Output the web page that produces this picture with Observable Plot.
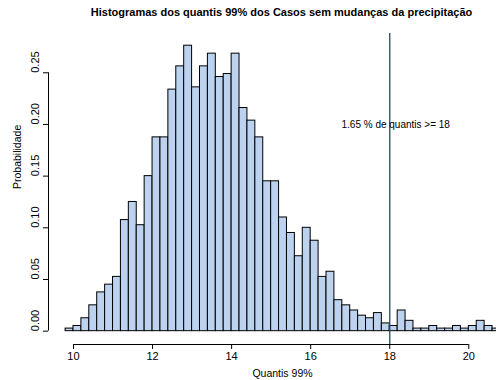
<!DOCTYPE html>
<html>
<head>
<meta charset="utf-8">
<script src="https://cdn.jsdelivr.net/npm/d3@7"></script>
<script src="https://cdn.jsdelivr.net/npm/@observablehq/plot@0.6"></script>
<style>
  html, body { margin: 0; padding: 0; background: #fff; overflow: hidden; }
  #wrap { width: 496px; height: 380px; position: relative; font-family: "Liberation Sans", Arial, sans-serif; }
  #title { position: relative; left: 0; width: 563px; height: 20px; padding-top: 6px; box-sizing: content-box; text-align: center; font-weight: bold; font-size: 11px; line-height: 13px; color: #000; white-space: nowrap; }
  svg { display: block; }
</style>
</head>
<body>
<div id="wrap">
  <div id="title">Histogramas dos quantis 99% dos Casos sem mudanças da precipitação</div>
  <div id="chart"></div>
</div>
<script>
// Bin lower edges (width 0.2)
const binLeft = [9.8, 10.0, 10.2, 10.4, 10.6, 10.8, 11.0, 11.2, 11.4, 11.6, 11.8,
  12.0, 12.2, 12.4, 12.6, 12.8, 13.0, 13.2, 13.4, 13.6, 13.8,
  14.0, 14.2, 14.4, 14.6, 14.8, 15.0, 15.2, 15.4, 15.6, 15.8,
  16.0, 16.2, 16.4, 16.6, 16.8, 17.0, 17.2, 17.4, 17.6, 17.8,
  18.0, 18.2, 18.4, 18.6, 18.8, 19.0, 19.2, 19.4, 19.6, 19.8,
  20.0, 20.2, 20.4, 20.6];
const binWidth = 0.2;
// Density ("Probabilidade") per bin
const density = [0.0025, 0.005, 0.0125, 0.025, 0.0375, 0.045, 0.0525, 0.1075, 0.125, 0.1025, 0.15,
  0.1875, 0.1875, 0.2337, 0.2562, 0.2762, 0.2359, 0.2562, 0.2685, 0.2459, 0.2488,
  0.2685, 0.2159, 0.2037, 0.1875, 0.145, 0.145, 0.11, 0.095, 0.0725, 0.1,
  0.0875, 0.0525, 0.0575, 0.03, 0.025, 0.02, 0.015, 0.0125, 0.0175, 0.0075,
  0.005, 0.02, 0.01, 0.0025, 0.0025, 0.005, 0.0025, 0.0025, 0.005, 0.0025,
  0.005, 0.01, 0.005, 0.0025];
const xTicks = [10, 12, 14, 16, 18, 20];
const yTicks = [0, 0.05, 0.10, 0.15, 0.20, 0.25];
const yTickLabels = ["0.00", "0.05", "0.10", "0.15", "0.20", "0.25"];
const threshold = 18;
const annotation = "1.65 % de quantis >= 18";
const xLabel = "Quantis 99%";
const yLabel = "Probabilidade";

const bins = binLeft.map((x0, i) => ({x0, x1: x0 + binWidth, d: density[i]}));
const xDomain = [9.368, 20.70];
const yDomain = [-0.0129, 0.288];
const yTickData = yTicks.map((v, i) => ({v, label: yTickLabels[i]}));

const chart = Plot.plot({
  width: 496,
  height: 354,
  marginTop: 7,
  marginBottom: 36,
  marginLeft: 48,
  marginRight: 0,
  style: {fontFamily: "'Liberation Sans', Arial, sans-serif", fontSize: "11px", background: "#fff", color: "#000"},
  x: {domain: xDomain},
  y: {domain: yDomain},
  marks: [
    Plot.rectY(bins, {x1: "x0", x2: "x1", y: "d", fill: "#BCD2EE", stroke: "#000", strokeWidth: 1, clip: true}),
    Plot.ruleX([threshold], {stroke: "#27408B", strokeWidth: 1.3}),
    Plot.text([annotation], {x: 18.15, y: 0.2, text: d => d, fontSize: 10, fill: "#000"}),
    Plot.axisX({ticks: xTicks, tickSize: 5, tickPadding: 3, fontSize: 11, label: null, tickFormat: d => String(d)}),
    Plot.ruleY([yDomain[0]], {x1: xTicks[0], x2: xTicks[xTicks.length - 1], stroke: "#000"}),
    Plot.axisY({ticks: yTicks, tickSize: 5, label: null, tickFormat: () => ""}),
    Plot.ruleX([xDomain[0]], {y1: yTicks[0], y2: yTicks[yTicks.length - 1], stroke: "#000"}),
    Plot.text(yTickData, {y: "v", text: "label", frameAnchor: "left", dx: -13, rotate: -90, fontSize: 11, fill: "#000"}),
    Plot.text([xLabel], {frameAnchor: "bottom", text: d => d, dx: 10, dy: 25, lineAnchor: "top", fontSize: 10.5, fill: "#000"}),
    Plot.text([yLabel], {frameAnchor: "left", text: d => d, dx: -31, rotate: -90, fontSize: 10.5, fill: "#000"})
  ]
});
document.getElementById("chart").appendChild(chart);
</script>
</body>
</html>
